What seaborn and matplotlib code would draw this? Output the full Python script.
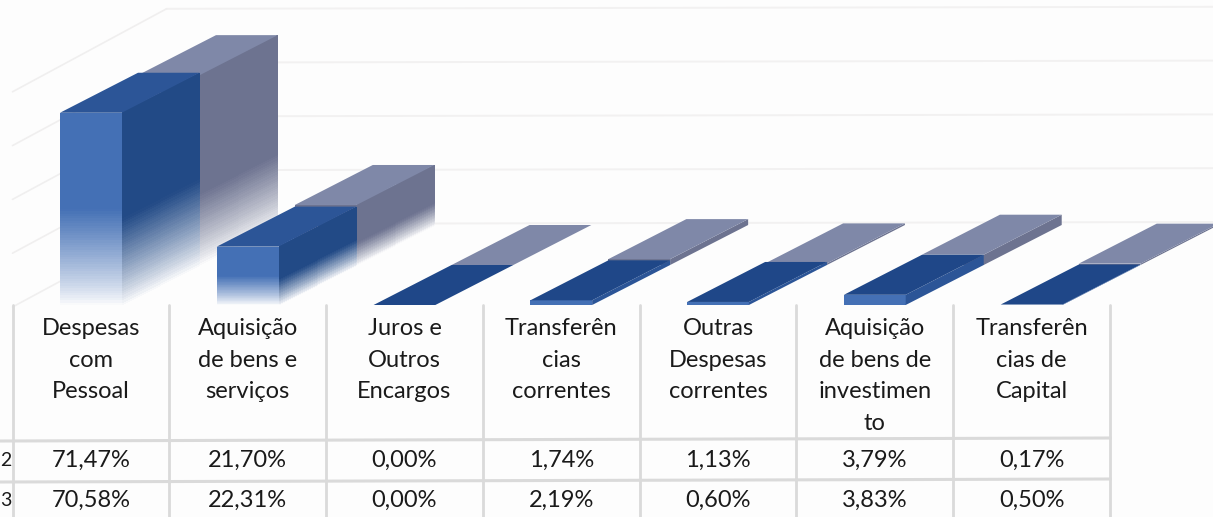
import numpy as np
import matplotlib
matplotlib.use('Agg')
import matplotlib.pyplot as plt
import matplotlib.colors as mcolors
from matplotlib.patches import Polygon
import seaborn as sns

categories = ['Despesas\ncom\nPessoal', 'Aquisição\nde bens e\nserviços', 'Juros e\nOutros\nEncargos',
              'Transferên\ncias\ncorrentes', 'Outras\nDespesas\ncorrentes',
              'Aquisição\nde bens de\ninvestimen\nto', 'Transferên\ncias de\nCapital']
values_front = [71.47, 21.70, 0.00, 1.74, 1.13, 3.79, 0.17]
values_back = [70.58, 22.31, 0.00, 2.19, 0.60, 3.83, 0.50]
row_names = ['2', '3']
grid_ticks = [0, 20, 40, 60, 80]

W, H = 1213, 517
BG = '#FDFDFD'
LEFT, RIGHT, BASE = 12.5, 1110, 305
PX_PCT = 2.69
PX_CAT = (RIGHT - LEFT) / 7
DEPTH = (78, 40)      # one series deep, in pixels
WALL = (154, 81)      # whole floor deep, in pixels
FONT = 'Lato'

sns.set_theme(style='white')
fig = plt.figure(figsize=(W / 100, H / 100), dpi=100, facecolor=BG)


def px_axes(left, right, bottom, top, z):
    ax = fig.add_axes([left / W, 1 - bottom / H, (right - left) / W, (bottom - top) / H], zorder=z)
    ax.patch.set_alpha(0)
    return ax


def shaded(ax, x0, x1, h, dy, color, fade):
    # sheared quad, colour runs out to the background in the lower part
    n = 80
    s = np.linspace(0, 1, n + 1)
    t = np.array([0.0, 1.0])
    X = x0 + np.outer(np.ones(n + 1), t) * (x1 - x0)
    Y = np.outer(s, np.ones(2)) * h + np.outer(np.ones(n + 1), t) * dy
    mid = (s[:-1] + s[1:]) / 2
    k = np.clip(mid / fade, 0, 1) ** 0.85
    c0, c1 = np.array(mcolors.to_rgb(BG)), np.array(mcolors.to_rgb(color))
    rgb = c0 + k[:, None] * (c1 - c0)
    ax.pcolormesh(X, Y, rgb[:, None, :], shading='flat', clip_on=False, antialiased=False, zorder=3)


def draw_series(ax, values, face, top_big, top_flat, side, side_flat, fade_face, fade_side):
    sns.barplot(x=np.arange(len(values)), y=values, color=face, width=0.394, saturation=1,
                native_scale=True, linewidth=0, ax=ax)
    ax.set_xlim(-0.5, 6.5)
    ax.set_ylim(0, 100)
    ax.axis('off')
    dx, dy = DEPTH[0] / PX_CAT, DEPTH[1] / PX_PCT
    for bar, v in zip(list(ax.patches), values):
        x0, w, h = bar.get_x(), bar.get_width(), bar.get_height()
        tall = v > 10
        if tall:
            bar.set_facecolor(BG)
            shaded(ax, x0, x0 + w, h, 0, face, fade_face)
            shaded(ax, x0 + w, x0 + w + dx, h, dy, side, fade_side)
        elif h > 0:
            ax.add_patch(Polygon([(x0 + w, 0), (x0 + w + dx, dy), (x0 + w + dx, dy + h), (x0 + w, h)],
                                 fc=side_flat, ec='none', clip_on=False, zorder=3))
        ax.add_patch(Polygon([(x0, h), (x0 + w, h), (x0 + w + dx, h + dy), (x0 + dx, h + dy)],
                             fc=top_big if tall else top_flat, ec='none', clip_on=False, zorder=4))


# back wall and left side of the floor
ax_wall = px_axes(LEFT + WALL[0], W + 5, BASE - WALL[1], BASE - WALL[1] - 100 * PX_PCT, 1)
wall_right = (W + 5 - LEFT - WALL[0]) / PX_CAT - 0.5
ax_wall.set_xlim(-0.5, wall_right)
ax_wall.set_ylim(0, 100)
ax_wall.axis('off')
for t in grid_ticks:
    ax_wall.plot([-0.5, wall_right], [t, t + 0.75], color='#F2F1F1', lw=1.4, clip_on=False)
    ax_wall.plot([-0.5, -0.5 - WALL[0] / PX_CAT], [t, t - 83 / PX_PCT], color='#F0EFEF', lw=1.2, clip_on=False)

ax_back = px_axes(LEFT + DEPTH[0], RIGHT + DEPTH[0], BASE - DEPTH[1], BASE - DEPTH[1] - 100 * PX_PCT, 2)
draw_series(ax_back, values_back, '#6D7390', '#7F88A8', '#7F88A8', '#6D7390', '#6D7390', 0.4, 0.38)

ax_front = px_axes(LEFT, RIGHT, BASE, BASE - 100 * PX_PCT, 3)
draw_series(ax_front, values_front, '#4470B5', '#2C5597', '#1F4788', '#224A86', '#2C5597', 0.5, 0.45)

# data table below the bars
ax_tab = px_axes(LEFT, RIGHT, H, BASE, 4)
ax_tab.set_xlim(-0.5, 6.5)
ax_tab.set_ylim(H, BASE)
ax_tab.axis('off')
line_c = '#DADADA'
for i in range(8):
    ax_tab.plot([i - 0.5, i - 0.5], [BASE, H], color=line_c, lw=2.0, clip_on=False)
left_x = -0.5 - LEFT / PX_CAT
for y0, y1 in [(441, 438), (482, 479)]:
    ax_tab.plot([left_x, 6.5], [y0, y1], color=line_c, lw=2.2, clip_on=False)

txt = dict(family=FONT, fontsize=17, color='#1A1A1A', ha='center')
for i, lab in enumerate(categories):
    ax_tab.text(i, 318, lab, va='top', linespacing=1.62, **txt)
for y, name, vals in [(460, row_names[0], values_front), (500, row_names[1], values_back)]:
    ax_tab.text(left_x + 0.5 / PX_CAT, y, name, va='center', ha='left', family=FONT, fontsize=14, color='#1A1A1A')
    for i, v in enumerate(vals):
        ax_tab.text(i, y, f'{v:.2f}%'.replace('.', ','), va='center', **txt)

fig.savefig('out.png', dpi=100, facecolor=BG)
